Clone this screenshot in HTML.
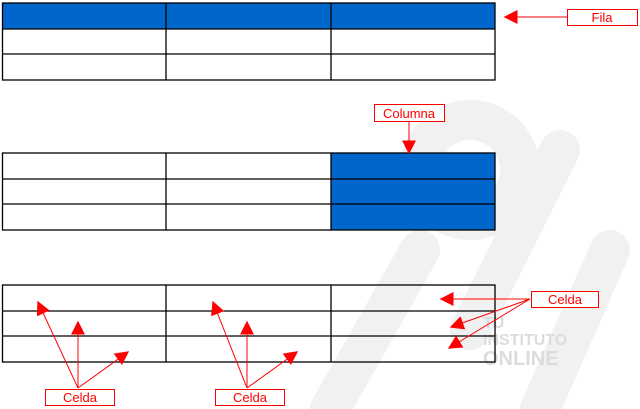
<!DOCTYPE html>
<html><head><meta charset="utf-8"><style>html,body{margin:0;padding:0;background:#fff}svg{display:block}</style></head>
<body>
<svg width="640" height="409" viewBox="0 0 640 409" xmlns="http://www.w3.org/2000/svg" font-family="'Liberation Sans', sans-serif">
<defs>
<marker id="b" viewBox="0 0 10 10" refX="9" refY="5" markerWidth="14" markerHeight="14" orient="auto" markerUnits="userSpaceOnUse"><path d="M0,0L10,5L0,10z" fill="#ff0000"/></marker>
</defs>
<!-- watermark -->
<g stroke="#f1f1f1" fill="none" stroke-width="40" stroke-linecap="round">
<path d="M420,250 L330,409"/>
<path d="M560,150 L470,330"/>
<circle cx="470" cy="170" r="50"/>
<path d="M610,250 L540,409"/>
</g>
<g fill="#dcdcdc" font-weight="bold" font-size="16"><text x="483" y="328">TU</text><text x="483" y="345">INSTITUTO</text><text x="483" y="365" font-size="20">ONLINE</text></g>
<!-- table 1 -->
<rect x="2.5" y="3" width="492.5" height="26" fill="#0066cc"/>
<g stroke="#000" stroke-width="1.3" fill="none">
<rect x="2.5" y="3" width="492.5" height="77"/>
<line x1="2.5" y1="29" x2="495" y2="29"/><line x1="2.5" y1="54" x2="495" y2="54"/>
<line x1="166" y1="3" x2="166" y2="80"/><line x1="331" y1="3" x2="331" y2="80"/>
</g>
<!-- table 2 -->
<rect x="331" y="153" width="164" height="77" fill="#0066cc"/>
<g stroke="#000" stroke-width="1.3" fill="none">
<rect x="2.5" y="153" width="492.5" height="77"/>
<line x1="2.5" y1="179" x2="495" y2="179"/><line x1="2.5" y1="204" x2="495" y2="204"/>
<line x1="166" y1="153" x2="166" y2="230"/><line x1="331" y1="153" x2="331" y2="230"/>
</g>
<!-- table 3 -->
<g stroke="#000" stroke-width="1.3" fill="none">
<rect x="2.5" y="285" width="492.5" height="77"/>
<line x1="2.5" y1="311" x2="495" y2="311"/><line x1="2.5" y1="336" x2="495" y2="336"/>
<line x1="166" y1="285" x2="166" y2="362"/><line x1="331" y1="285" x2="331" y2="362"/>
</g>
<!-- arrows -->
<g stroke="#ff0000" stroke-width="1" fill="none" marker-end="url(#b)">
<line x1="567" y1="17" x2="505" y2="17"/>
<line x1="409" y1="121" x2="409" y2="153"/>
<line x1="78" y1="388" x2="38" y2="302"/>
<line x1="78" y1="388" x2="78" y2="322"/>
<line x1="78" y1="388" x2="128" y2="352"/>
<line x1="247" y1="388" x2="213" y2="302"/>
<line x1="247" y1="388" x2="247" y2="322"/>
<line x1="247" y1="388" x2="297" y2="352"/>
<line x1="530" y1="299" x2="441" y2="299"/>
<line x1="530" y1="299" x2="451" y2="327"/>
<line x1="530" y1="299" x2="449" y2="348"/>
</g>
<!-- labels -->
<g fill="#fff" stroke="#ff0000" stroke-width="1">
<rect x="567.5" y="9.5" width="70" height="16"/>
<rect x="374.5" y="104.5" width="70" height="17"/>
<rect x="531.5" y="291.5" width="67" height="16"/>
<rect x="45.5" y="389.5" width="69" height="16"/>
<rect x="215.5" y="389.5" width="69" height="16"/>
</g>
<g fill="#ff0000" font-size="13" text-anchor="middle">
<text x="602" y="22">Fila</text>
<text x="409" y="118">Columna</text>
<text x="565" y="304">Celda</text>
<text x="80" y="402">Celda</text>
<text x="250" y="402">Celda</text>
</g>
</svg>
</body></html>
